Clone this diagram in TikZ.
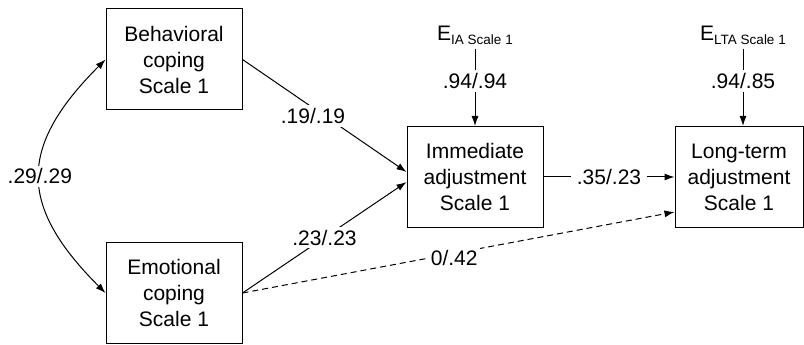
\documentclass[tikz,border=0pt]{standalone}
\usepackage{fontspec}
\setmainfont{Liberation Sans}
\usetikzlibrary{arrows.meta,positioning}

\tikzset{
  box/.style={draw, align=center, inner sep=0pt, minimum width=136pt, minimum height=101pt, font=\fontsize{21}{26}\selectfont},
  coef/.style={fill=white, inner xsep=6pt, inner ysep=3pt, font=\fontsize{21}{26}\selectfont},
  err/.style={inner sep=3pt, anchor=base, font=\fontsize{21}{26}\selectfont}
}
\newcommand{\errsub}[1]{\raisebox{-4pt}{\fontsize{13.5}{14}\selectfont #1}}

\begin{document}
\begin{tikzpicture}[x=1pt, y=1pt, line width=1pt, >={Latex[length=10pt,width=7pt]}]
\useasboundingbox (0,0) rectangle (804,345);

\node[box] (beh) at (174,285.5) {Behavioral\\coping\\Scale 1};
\node[box] (emo) at (174,52) {Emotional\\coping\\Scale 1};
\node[box] (imm) at (475,168) {Immediate\\adjustment\\Scale 1};
\node[box, minimum width=128pt] (lta) at (739,168) {Long-term\\adjustment\\Scale 1};

% error terms
\node[err] (eia) at (475,304) {E\errsub{IA Scale 1}};
\node[err] (elta) at (743,304) {E\errsub{LTA Scale 1}};
\draw[->] (eia) -- node[coef, pos=0.42] {.94/.94} (imm);
\draw[->] (elta) -- node[coef, pos=0.42] {.94/.85} (elta |- lta.north);

% correlation between the two coping scales
\draw[<->] (beh.west) to[out=225, in=135, looseness=1.36] node[coef, inner xsep=2pt] {.29/.29} (emo.west);

\draw[->] (beh.east) -- node[coef, pos=0.43, yshift=-8pt] {.19/.19} ([yshift=5pt]imm.west);
\draw[->] (emo.east) -- node[coef, pos=0.5] {.23/.23} ([yshift=-5pt]imm.west);
\draw[->] (imm) -- node[coef] {.35/.23} (lta);
\draw[->, dash pattern=on 6pt off 4pt] (emo.east) -- node[coef, pos=0.49, yshift=-5pt, inner xsep=2pt] {0/.42} ([yshift=-35pt]lta.west);
\end{tikzpicture}
\end{document}
